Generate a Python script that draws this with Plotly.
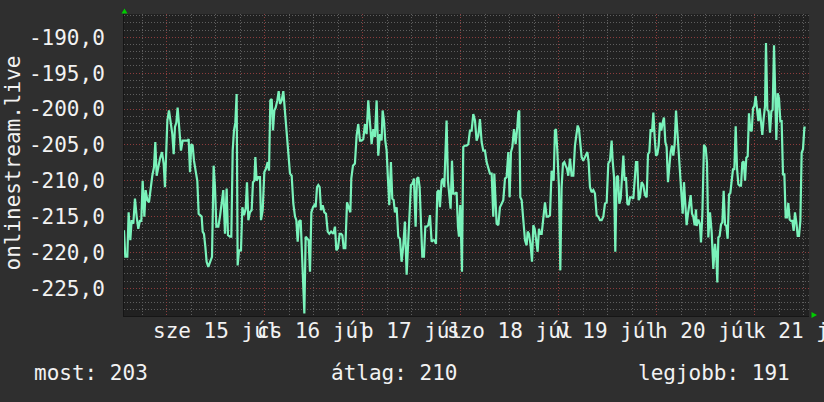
import pandas as pd
import plotly.graph_objects as go

# ---------------- data ----------------
ref_day = "2020-07-15 00:00"
range_minutes = [-627, 9438]

minutes = [
    -627, -608, -578, -559, -534, -515, -490, -466, -441, -417, -392, -373, -353, -328, -309, -284,
    -260, -235, -211, -186, -167, -147, -123, -98, -69, -44, -25, -5, 10, 34, 58, 83, 103, 122, 142,
    161, 186, 210, 235, 269, 308, 323, 343, 362, 382, 401, 431, 450, 470, 494, 514, 529, 548, 568,
    587, 612, 636, 666, 690, 710, 730, 759, 783, 808, 832, 857, 881, 901, 930, 950, 970, 989, 1009,
    1028,
    1043, 1063, 1092, 1112, 1136, 1161, 1180, 1200, 1224, 1249, 1268, 1288, 1303, 1322, 1347, 1371,
    1386, 1411, 1435, 1460, 1484, 1504, 1523, 1543, 1562, 1582, 1602, 1626, 1646, 1665, 1690, 1714,
    1739, 1763, 1788, 1812, 1837, 1861, 1886, 1905, 1925, 1944, 1969, 1988, 2008, 2023, 2042, 2062,
    2086, 2106, 2126, 2150, 2170, 2189, 2209, 2228, 2248, 2268, 2292, 2317, 2341, 2366, 2390, 2415,
    2449, 2473, 2493, 2517, 2542, 2562, 2581, 2601, 2625, 2650, 2674, 2699,
    2713, 2737, 2766, 2791, 2815, 2840, 2864, 2889, 2913, 2938, 2962, 2987, 3011, 3036, 3060, 3085,
    3109, 3134, 3158, 3173, 3193, 3212, 3232, 3251, 3271, 3295, 3315, 3335, 3354, 3379, 3403, 3428,
    3452, 3477, 3501, 3526, 3550, 3575, 3589, 3614, 3633, 3658, 3677, 3697, 3717, 3736, 3756, 3780,
    3800, 3820, 3844, 3869, 3893, 3918, 3937, 3957, 3976, 3996, 4015, 4040, 4060, 4079, 4099, 4113,
    4133, 4153, 4172, 4192, 4211, 4236, 4260, 4280, 4295, 4314, 4339, 4358, 4383, 4407, 4432,
    4456, 4481, 4505, 4530, 4554, 4579, 4603, 4628, 4652, 4677, 4701, 4726, 4750, 4775, 4799, 4814,
    4834, 4848, 4873, 4897, 4922, 4946, 4971, 4995, 5020, 5039, 5059, 5079, 5103, 5127, 5152, 5167,
    5181, 5196, 5216, 5240, 5265, 5289, 5304, 5323, 5348, 5368, 5387, 5407, 5426, 5451, 5470, 5490,
    5510, 5534, 5559, 5583, 5608, 5632, 5656, 5671, 5686, 5705, 5720, 5740, 5764, 5784, 5803, 5823,
    5843, 5862, 5882, 5901, 5926, 5950, 5975, 5999, 6019, 6039, 6058, 6078, 6097, 6122,
    6132, 6156, 6181, 6200, 6220, 6244, 6269, 6293, 6318, 6342, 6367, 6391, 6416, 6440, 6465, 6489,
    6514, 6538, 6553, 6573, 6592, 6612, 6631, 6651, 6671, 6690, 6710, 6729, 6749, 6769, 6788, 6808,
    6832, 6857, 6876, 6896, 6915, 6935, 6955, 6979, 7004, 7028, 7053, 7072, 7092, 7111, 7131, 7151,
    7170, 7190, 7209, 7229, 7249, 7268, 7288, 7307, 7327, 7346, 7366, 7386, 7405, 7425, 7444, 7464,
    7484, 7503, 7523, 7542, 7562, 7582, 7601, 7621, 7640, 7660, 7680, 7699, 7719, 7738, 7758,
    7778, 7787, 7812, 7836, 7851, 7871, 7895, 7920, 7939, 7959, 7983, 8008, 8032, 8057, 8076, 8091,
    8106, 8125, 8145, 8165, 8184, 8204, 8223, 8243, 8263, 8282, 8302, 8321, 8341, 8361, 8380, 8400,
    8419, 8439, 8458, 8478, 8498, 8517, 8537, 8556, 8576, 8596, 8615, 8635, 8654, 8674, 8694, 8713,
    8733, 8752, 8772, 8792, 8806, 8826, 8845, 8865, 8885, 8904, 8924, 8943, 8958, 8978, 8997, 9017,
    9036, 9056, 9076, 9095, 9115, 9134, 9154, 9174, 9193, 9213, 9232, 9252, 9272, 9291, 9311, 9330,
    9350, 9370, 9389,
]

values = [
    -216.9, -220.6, -220.6, -214.4, -218.3, -215.5, -216.0, -212.5, -215.0, -216.7, -215.5, -215.7,
    -210.0, -215.0, -211.3, -212.7, -213.0, -210.6, -209.3, -208.1, -204.6, -209.3, -207.9, -206.9,
    -206.0, -207.6, -210.9, -205.1, -201.6, -200.2, -201.9, -203.5, -206.3, -202.5, -201.9, -199.8,
    -202.8, -205.8, -204.4, -204.4, -204.4, -204.2, -208.8, -204.9, -205.1, -207.2, -209.0, -210.0,
    -214.6, -214.8, -215.0, -217.1, -217.4, -219.2, -221.3, -222.0, -221.3, -220.6, -207.9, -210.9,
    -216.4, -216.4, -215.0, -213.2, -211.3, -217.4, -211.1, -217.6, -217.8, -217.8, -205.8, -203.0,
    -201.9, -197.9,
    -221.8, -219.7, -219.7, -213.7, -214.8, -213.9, -210.2, -215.5, -214.4, -214.1, -210.2, -210.0,
    -206.7, -210.0, -209.5, -209.5, -215.5, -214.1, -208.8, -208.3, -207.4, -208.6, -198.8, -198.6,
    -203.0, -200.2, -199.8, -198.8, -197.5, -199.3, -198.8, -197.5, -200.7, -203.0, -206.5, -209.0,
    -209.3, -213.2, -215.0, -215.5, -218.5, -215.7, -215.5, -219.9, -223.8, -228.5, -217.8, -218.1,
    -218.3, -222.7, -214.4, -213.7, -213.4, -213.7, -210.9, -210.6, -210.9, -214.1, -213.4, -214.4,
    -214.6, -217.1, -217.4, -217.1, -217.4, -216.4, -219.7, -219.4, -217.4, -217.4, -217.6, -219.4,
    -219.4, -213.0, -213.7, -214.4,
    -209.7, -207.9, -207.6, -203.7, -202.1, -204.4, -204.4, -204.2, -202.1, -203.5, -198.8, -202.1,
    -204.9, -202.8, -203.9, -198.8, -206.5, -203.5, -204.4, -200.2, -201.6, -204.4, -205.8, -209.7,
    -213.4, -207.4, -212.5, -212.7, -214.4, -213.7, -217.8, -218.1, -221.3, -219.0, -215.7, -223.1,
    -219.0, -214.6, -210.6, -210.4, -209.7, -216.4, -209.7, -209.5, -210.9, -215.7, -220.6, -220.6,
    -216.4, -216.4, -216.2, -214.8, -218.5, -218.3, -218.3, -218.8, -211.6, -211.3, -213.7, -210.0,
    -209.7, -210.9, -205.3, -201.6, -210.0, -211.6, -213.9, -207.2, -211.8, -211.8, -211.6, -216.4,
    -217.8, -213.4, -222.7, -205.3, -205.1, -205.1, -204.9,
    -203.0, -203.0, -200.7, -201.6, -204.4, -203.7, -201.4, -204.6, -205.8, -205.8, -207.4, -208.1,
    -209.0, -209.0, -215.0, -209.0, -215.0, -216.0, -216.2, -213.7, -213.2, -212.7, -209.7, -209.5,
    -206.0, -212.3, -206.0, -205.3, -202.8, -204.9, -202.5, -200.5, -200.2, -212.3, -212.7, -215.7,
    -218.3, -219.0, -217.1, -217.4, -219.0, -221.3, -216.2, -216.7, -218.1, -219.9, -216.7, -217.4,
    -217.4, -214.8, -213.0, -215.0, -215.0, -214.8, -208.6, -209.5, -210.0, -203.0, -202.8, -205.8,
    -210.9, -222.5, -210.9, -207.6, -207.4, -207.9, -208.3, -209.3, -206.9, -209.3, -209.3, -205.1,
    -203.5, -202.3, -202.8, -204.6, -206.7, -207.2,
    -206.9, -206.5, -206.0, -207.4, -210.9, -211.6, -211.3, -211.8, -214.8, -215.0, -215.5, -215.5,
    -215.0, -213.2, -213.0, -207.6, -207.2, -204.4, -207.2, -209.5, -219.9, -209.5, -209.3, -213.2,
    -212.5, -210.0, -206.5, -210.0, -209.5, -213.2, -213.4, -212.3, -212.3, -212.5, -210.4, -207.4,
    -207.4, -212.7, -212.3, -210.2, -210.6, -212.0, -212.3, -206.3, -206.0, -202.8, -203.2, -200.5,
    -203.9, -206.5, -206.3, -205.1, -201.9, -203.0, -201.9, -201.2, -204.6, -205.3, -210.2, -207.4,
    -206.0, -205.1, -206.5, -204.9, -200.2, -203.0, -206.0, -207.4, -210.4, -214.6, -210.2, -213.7,
    -216.2, -214.6, -213.4, -212.0, -214.6, -215.0, -216.2,
    -214.0, -216.3, -215.4, -216.1, -218.6, -214.7, -205.0, -205.4, -207.5, -217.9, -214.4, -217.2,
    -222.3, -218.8, -220.5, -224.2, -217.9, -217.7, -216.1, -215.8, -211.4, -216.1, -216.3, -218.1,
    -211.9, -211.7, -209.8, -208.4, -208.4, -202.4, -208.2, -210.5, -210.7, -210.7, -207.5, -207.3,
    -210.0, -206.8, -206.6, -200.6, -202.9, -203.1, -199.9, -199.6, -198.2, -199.6, -201.7, -199.9,
    -201.9, -203.6, -201.3, -199.6, -190.8, -200.1, -200.3, -203.3, -200.3, -200.1, -191.1, -199.9,
    -204.3, -197.8, -198.5, -201.7, -201.7, -209.1, -209.1, -215.1, -215.1, -213.1, -215.4, -215.6,
    -215.6, -217.0, -214.4, -215.8, -217.7, -217.7, -215.6, -206.1, -205.6, -202.6, -202.6,
]

y_range = [-228.86, -186.75]
y_ticks = [-190, -195, -200, -205, -210, -215, -220, -225]
day_label_times = ["2020-07-15 12:00", "2020-07-16 12:00", "2020-07-17 12:00", "2020-07-18 12:00",
                   "2020-07-19 12:00", "2020-07-20 12:00", "2020-07-21 12:00"]
day_labels = ["sze 15 júl", "cs 16 júl", "p 17 júl", "szo 18 júl", "v 19 júl", "h 20 júl", "k 21 júl"]
axis_title = "onlinestream.live"
stat_names = ["most", "átlag", "legjobb"]
stat_values = ["203", "210", "191"]

# ---------------- build ----------------
ref = pd.Timestamp(ref_day)
times = ref + pd.to_timedelta(minutes, unit="m")
x_range = [ref + pd.Timedelta(minutes=range_minutes[0]), ref + pd.Timedelta(minutes=range_minutes[1])]
y_ticktext = [f"{v:.1f}".replace(".", ",") for v in y_ticks]

FONT = "DejaVu Sans Mono"
TXT = "#f2f2f2"
BG = "#2f2f2f"
CANVAS = "#212121"
MAJOR = "#8c3c3c"
MINOR = "#5e5e5e"
LINE = "#7af3bb"

fig = go.Figure()
fig.add_trace(go.Scatter(x=times, y=values, mode="lines",
                         line=dict(color=LINE, width=2.2), hoverinfo="skip", showlegend=False))

W, H = 824, 402
L, R, T, B = 124, 15, 14, 86
pw, ph = W - L - R, H - T - B

def px(xp):
    return (xp - L) / pw

def py(yp):
    return (H - B - yp) / ph

fig.update_layout(
    width=W, height=H,
    margin=dict(l=L, r=R, t=T, b=B, pad=0, autoexpand=False),
    paper_bgcolor=BG, plot_bgcolor=CANVAS,
    font=dict(family=FONT, size=21, color=TXT),
    xaxis=dict(type="date", range=x_range, showticklabels=False, ticks="",
               tick0=ref, dtick=86400000, showgrid=True, gridcolor=MAJOR, griddash="1px,2px", gridwidth=1,
               minor=dict(tick0=ref, dtick=6 * 3600000, showgrid=True, gridcolor=MINOR,
                          griddash="1px,2px", gridwidth=1),
               zeroline=False, showline=True, linecolor="#161616", linewidth=1),
    yaxis=dict(range=y_range, tickmode="array", tickvals=y_ticks, ticktext=y_ticktext,
               showgrid=True, gridcolor=MAJOR, griddash="1px,2px", gridwidth=1,
               minor=dict(tick0=0, dtick=1, showgrid=True, gridcolor=MINOR, griddash="1px,2px", gridwidth=1),
               ticks="", ticklabelstandoff=14, zeroline=False,
               showline=True, linecolor="#161616", linewidth=1,
               tickfont=dict(family=FONT, size=21, color=TXT)),
)

annotations = [
    dict(text=axis_title, x=px(12.5), y=py(163), xref="paper", yref="paper", textangle=-90,
         showarrow=False, xanchor="center", yanchor="middle", font=dict(family=FONT, size=21, color=TXT)),
]
for t, lab in zip(day_label_times, day_labels):
    annotations.append(dict(text=lab, x=t, y=py(331), xref="x", yref="paper", showarrow=False,
                            xanchor="center", yanchor="middle", font=dict(family=FONT, size=21, color=TXT)))
stat_x = [31.5, 328.5, 635.5]
for name, val, sx in zip(stat_names, stat_values, stat_x):
    annotations.append(dict(text=f"{name}: {val}", x=px(sx), y=py(373), xref="paper", yref="paper",
                            showarrow=False, xanchor="left", yanchor="middle",
                            font=dict(family=FONT, size=21, color=TXT)))
fig.update_layout(annotations=annotations)

# small green axis arrows
up = f"M {px(121.5)},{py(13.5)} L {px(127.5)},{py(13.5)} L {px(124.5)},{py(8.5)} Z"
right = f"M {px(811.5)},{py(312)} L {px(811.5)},{py(318)} L {px(817)},{py(315)} Z"
fig.update_layout(shapes=[
    dict(type="path", path=up, xref="paper", yref="paper", fillcolor="#00cc00", line=dict(width=0)),
    dict(type="path", path=right, xref="paper", yref="paper", fillcolor="#00cc00", line=dict(width=0)),
])

fig.write_html("out.html")
